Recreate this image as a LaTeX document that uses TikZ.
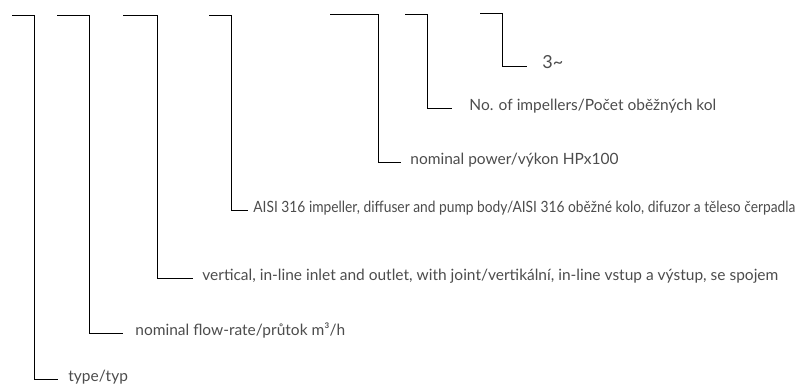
\documentclass[tikz,border=0pt]{standalone}
\usepackage{fontspec}
\setmainfont{Lato}
\usepackage{graphicx}

\begin{document}
\begin{tikzpicture}[x=1pt,y=-1pt,line width=0.8pt,
  lbl node/.style={anchor=mid west,inner ysep=0pt,text=black!70,
    font=\fontsize{15.5}{18}\selectfont},
  big node/.style={lbl node,font=\fontsize{18}{21}\selectfont}]
  \useasboundingbox (0,0) rectangle (803,385);

  % top ends and corners of the brackets
  \coordinate (t1) at (12,15);  \coordinate (c1) at (34,379);
  \coordinate (t2) at (57,15);  \coordinate (c2) at (89,333);
  \coordinate (t3) at (123,15); \coordinate (c3) at (157,278);
  \coordinate (t4) at (209,15); \coordinate (c4) at (231,210);
  \coordinate (t5) at (330,14); \coordinate (c5) at (378,162);
  \coordinate (t6) at (405,14); \coordinate (c6) at (427,108);
  \coordinate (t7) at (480,13); \coordinate (c7) at (502,66);

  \node[lbl node,inner xsep=10pt] (1) at (58,379) {type/typ};
  \node[lbl node,inner xsep=12pt] (2) at (123,333) {nominal flow-rate/průtok m³/h};
  \node[lbl node,inner xsep=9pt] (3) at (193,278) {vertical, in-line inlet and outlet, with joint/vertikální, in-line vstup a výstup, se spojem};
  \node[lbl node,inner xsep=5pt] (4) at (248,210) {\resizebox{542pt}{\height}{AISI 316 impeller, diffuser and pump body/AISI 316 oběžné kolo, difuzor a těleso čerpadla}};
  \node[lbl node,inner xsep=9pt] (5) at (401,162) {nominal power/výkon HPx100};
  \node[lbl node,inner xsep=17pt] (6) at (452,108) {No. of impellers/Počet oběžných kol};
  \node[big node,inner xsep=15pt] (7) at (527,66) {3\textasciitilde};

  \draw (t1) -| (c1) -- (1.mid west);
  \draw (t2) -| (c2) -- (2.mid west);
  \draw (t3) -| (c3) -- (3.mid west);
  \draw (t4) -| (c4) -- (4.mid west);
  \draw (t5) -| (c5) -- (5.mid west);
  \draw (t6) -| (c6) -- (6.mid west);
  \draw (t7) -| (c7) -- (7.mid west);
\end{tikzpicture}
\end{document}
